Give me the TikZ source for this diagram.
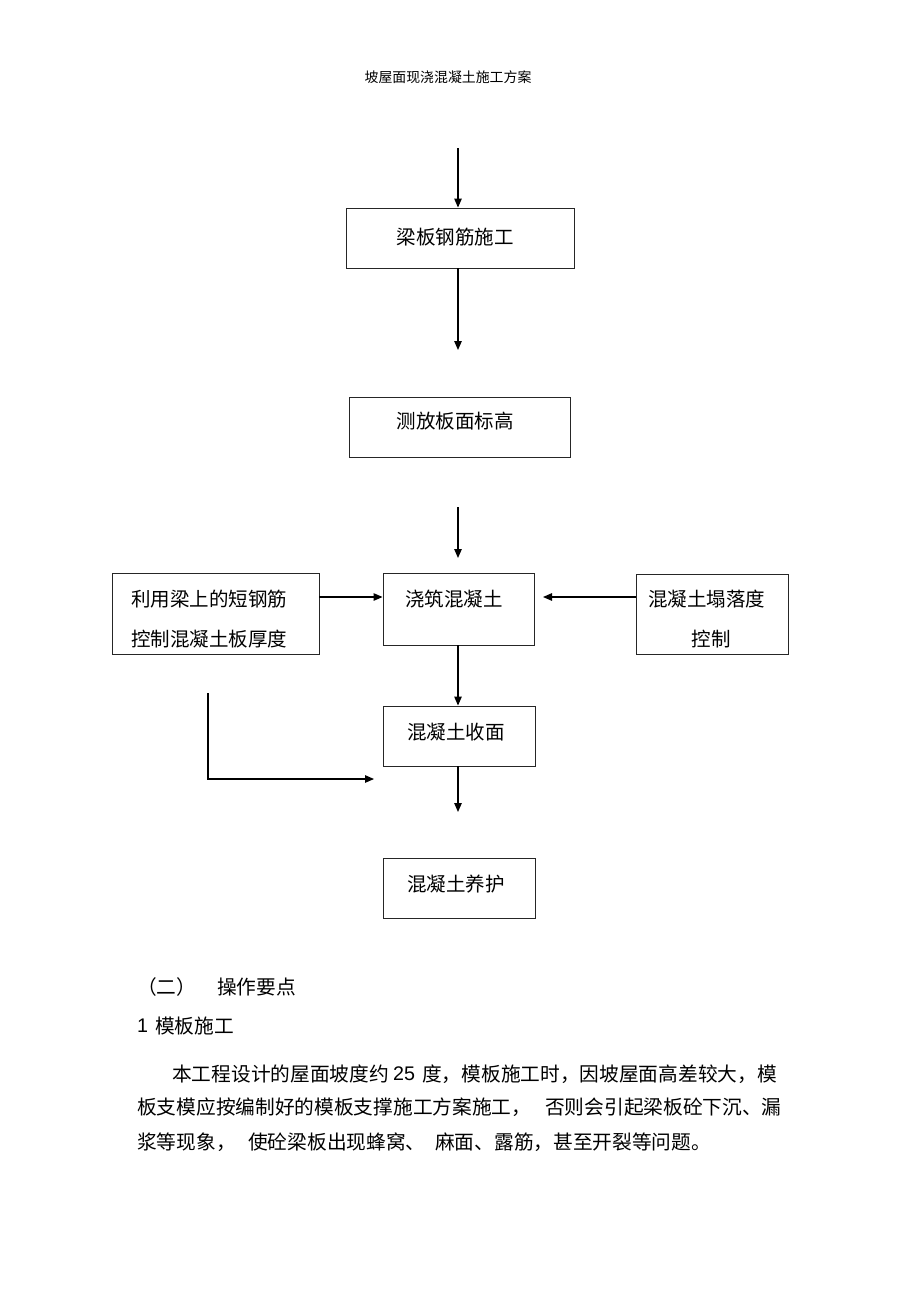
\documentclass[tikz,border=0pt]{standalone}
\usepackage{fontspec}
\newfontfamily\cjk{Noto Sans CJK SC}
\newfontfamily\lat{Liberation Sans}
\usetikzlibrary{arrows.meta}
\begin{document}
\begin{tikzpicture}[x=1pt,y=-1pt,
  boxnode/.style={draw=black!85, line width=0.9pt, inner sep=0pt},
  lbl/.style={inner sep=0pt, font=\cjk\fontsize{19.5}{20}\selectfont},
  para/.style={inner sep=0pt, anchor=west, font=\cjk\fontsize{19.7}{20}\selectfont},
  arr/.style={line width=1.2pt, -{Triangle[length=9pt,width=7.5pt]}},
  plain/.style={line width=1.2pt}]
\useasboundingbox[fill=white] (0,0) rectangle (920,1303);

% title
\node[inner sep=0pt, font=\cjk\fontsize{13.9}{14}\selectfont] (title) at (448,77) {坡屋面现浇混凝土施工方案};

% boxes
\node[boxnode, minimum width=228pt, minimum height=60pt] (b1) at (460,238) {};
\node[boxnode, minimum width=221pt, minimum height=60pt] (b2) at (459.5,427) {};
\node[boxnode, minimum width=151pt, minimum height=72pt] (b3) at (458.5,609) {};
\node[boxnode, minimum width=207pt, minimum height=81pt] (lb) at (215.5,613.5) {};
\node[boxnode, minimum width=152pt, minimum height=80pt] (rb) at (712,614) {};
\node[boxnode, minimum width=152pt, minimum height=60pt] (b4) at (459,736) {};
\node[boxnode, minimum width=152pt, minimum height=60pt] (b5) at (459,888) {};

% box texts
\node[lbl] (t1) at (455,237) {梁板钢筋施工};
\node[lbl] (t2) at (455,421) {测放板面标高};
\node[lbl] (t3) at (454,599) {浇筑混凝土};
\node[lbl] (tl1) at (209,599) {利用梁上的短钢筋};
\node[lbl] (tl2) at (209,639) {控制混凝土板厚度};
\node[lbl] (tr1) at (706.5,599) {混凝土塌落度};
\node[lbl] (tr2) at (711,639) {控制};
\node[lbl] (t4) at (456,732) {混凝土收面};
\node[lbl] (t5) at (456,884) {混凝土养护};

% helper coordinates
\coordinate (c0) at (458,148);
\coordinate (c1) at (458,350);
\coordinate (c2) at (458,507);
\coordinate (c3) at (458,558);
\coordinate (ylev) at (0,597);
\coordinate (c4) at (543,597);
\coordinate (c5) at (458,812);
\coordinate (c6) at (208,693);
\coordinate (c6b) at (208,779);
\coordinate (c7) at (374,779);

% connectors
\draw[arr] (c0) -- (c0 |- b1.north);
\draw[arr] (c1 |- b1.south) -- (c1);
\draw[arr] (c2) -- (c3);
\draw[arr] (lb.east |- ylev) -- (b3.west |- ylev);
\draw[arr] (rb.west |- ylev) -- (c4);
\draw[arr] (c2 |- b3.south) -- (c2 |- b4.north);
\draw[arr] (c5 |- b4.south) -- (c5);
\draw[arr] (c6) -- (c6b) -- (c7);

% body text
\node[para] (h1) at (137,987) {（二）};
\node[para] (h1b) at (217,987) {操作要点};
\node[para, font=\lat\fontsize{19.7}{20}\selectfont] (h2a) at (137,1026) {1};
\node[para] (h2b) at (155,1026) {模板施工};

\node[para] (p1a) at (172,1074) {本工程设计的屋面坡度约};
\node[para, font=\lat\fontsize{19.7}{20}\selectfont] (p1b) at (393,1074) {25};
\node[para] (p1c) at (422,1074) {度，模板施工时，因坡屋面高差较大，模};

\node[para] (p2a) at (137,1107) {板支模应按编制好的模板支撑施工方案施工，};
\node[para] (p2b) at (545,1107) {否则会引起梁板砼下沉、漏};

\node[para] (p3a) at (137,1142) {浆等现象，};
\node[para] (p3b) at (248,1142) {使砼梁板出现蜂窝、};
\node[para] (p3c) at (435,1142) {麻面、露筋，甚至开裂等问题。};
\end{tikzpicture}
\end{document}
